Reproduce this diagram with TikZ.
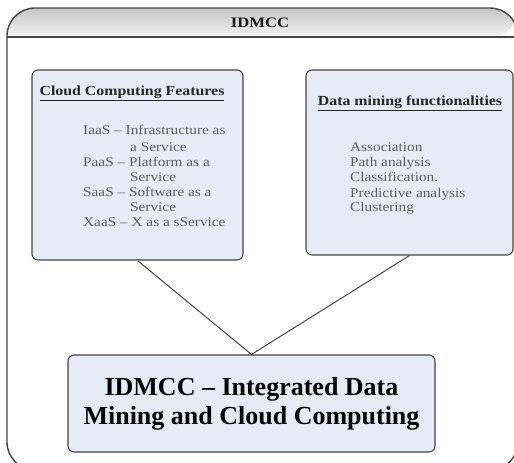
\documentclass[tikz,border=0pt]{standalone}
\usepackage{fontspec}
\setmainfont{Liberation Serif}
\newfontfamily\widef[FakeStretch=1.15,Ligatures=TeX]{Liberation Serif}
\usetikzlibrary{calc}
\definecolor{boxfill}{HTML}{E6EBF6}
\definecolor{boxline}{HTML}{454545}
\definecolor{itemgray}{HTML}{5E5E5E}
\definecolor{headtop}{HTML}{C4C4C4}
\definecolor{headbot}{HTML}{F4F4F4}
\tikzset{
  panel/.style={draw=boxline, line width=1.1pt, fill=boxfill, rounded corners=6pt, inner sep=0pt},
  paneltitle/.style={font=\widef\fontsize{13.8}{15}\selectfont\bfseries, text=black!85, inner sep=0pt},
  item/.style={font=\widef\fontsize{13.3}{15}\selectfont, text=itemgray, inner sep=0pt, anchor=base west},
  link/.style={draw=boxline, line width=1pt}
}
\begin{document}
\begin{tikzpicture}[x=1pt,y=-1pt]
\useasboundingbox (0,0) rectangle (514,463);
% outer frame
\fill[white] (7,37) rectangle (518,470);
\shade[top color=headtop, bottom color=headbot, rounded corners=28pt]
  (7,37) -- (7,8) -- (518,8) -- (518,37) [sharp corners] -- cycle;
\draw[boxline, line width=1.4pt, rounded corners=28pt]
  (7,470) -- (7,8) -- (518,8) -- (518,470) -- cycle;
\draw[boxline, line width=1.4pt] (7,37) -- (518,37);
\node[font=\widef\fontsize{14.5}{16}\selectfont\bfseries, text=black!90, inner sep=0pt] (head) at (260,22.5) {IDMCC};

% boxes
\node[panel, minimum width=211pt, minimum height=190pt] (cc) at (137.5,165) {};
\node[panel, minimum width=207pt, minimum height=185pt] (dm) at (409.5,162.5) {};
\node[panel, minimum width=367pt, minimum height=97pt,
      font=\fontsize{26}{29}\selectfont\bfseries, align=center] (id) at (251.5,403.5)
      {IDMCC – Integrated Data\\Mining and Cloud Computing};

% connectors
\draw[link] (cc.south) -- (id.north);
\draw[link] (dm.south) -- (id.north);

% left box text
\node[paneltitle] (cct) at (132,93) {\underline{Cloud Computing Features}};
\node[item] (c1) at (83,134) {IaaS – Infrastructure as};
\node[item] (c2) at (130,151) {a Service};
\node[item] (c3) at (83,166) {PaaS – Platform as a};
\node[item] (c4) at (130,181) {Service};
\node[item] (c5) at (83,196) {SaaS – Software as a};
\node[item] (c6) at (130,211) {Service};
\node[item] (c7) at (83,226) {XaaS – X as a sService};

% right box text
\node[paneltitle] (dmt) at (410,103) {\underline{Data mining functionalities}};
\node[item] (d1) at (350,151) {Association};
\node[item] (d2) at (350,166) {Path analysis};
\node[item] (d3) at (350,181) {Classification.};
\node[item] (d4) at (350,197) {Predictive analysis};
\node[item] (d5) at (350,211) {Clustering};
\end{tikzpicture}
\end{document}
